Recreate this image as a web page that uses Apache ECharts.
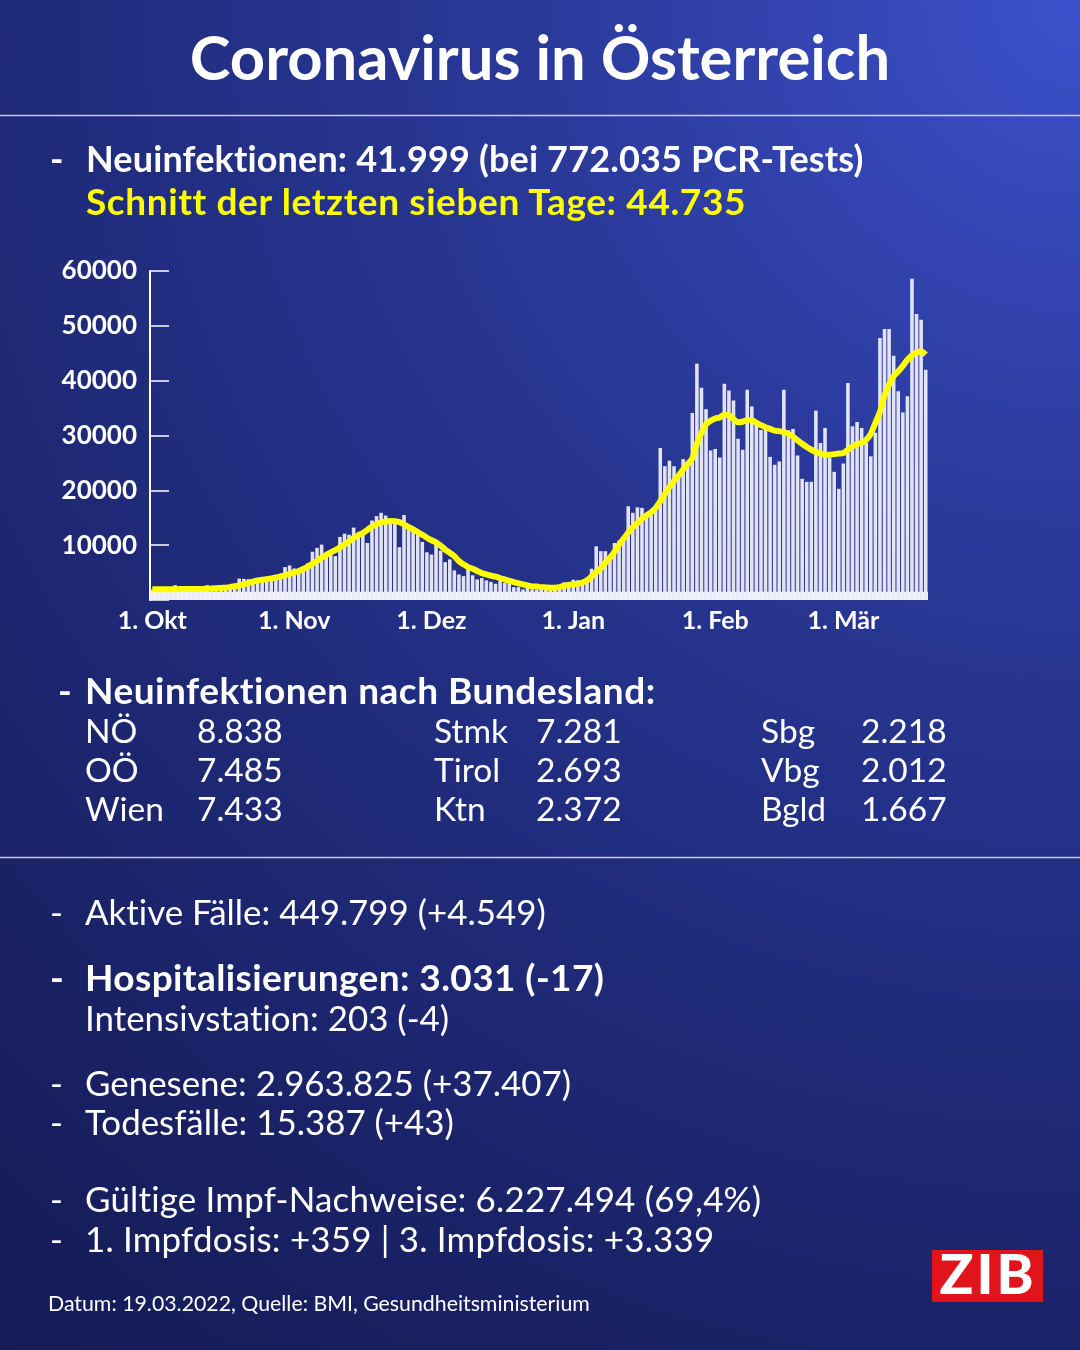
<!DOCTYPE html>
<html>
<head>
<meta charset="utf-8">
<script src="https://cdn.jsdelivr.net/npm/echarts/dist/echarts.min.js"></script>
<style>
  html, body { margin: 0; padding: 0; }
  #wrap {
    position: relative; width: 1080px; height: 1350px; overflow: hidden;
    background: radial-gradient(circle at 100% 0%, #3c51cc 0%, #2b3a9b 30%, #212d80 55%, #1a2266 80%, #151b55 100%);
    font-family: 'Lato', sans-serif;
  }
  #chart { position: absolute; left: 0; top: 0; width: 1080px; height: 1350px; }
  #overlay { position: absolute; left: 0; top: 0; width: 1080px; height: 1350px; pointer-events: none; }
  text { font-family: 'Lato', sans-serif; font-variant-ligatures: none; font-feature-settings: "liga" 0, "clig" 0; }
</style>
</head>
<body>
<div id="wrap">
  <div id="chart"></div>
  <svg id="overlay" width="1080" height="1350" xmlns="http://www.w3.org/2000/svg"></svg>
</div>
<script>
// ---------------- DATA ----------------
const startDate = '2021-10-01';
const dayCount = 170;

// daily new infections, 1 Oct 2021 .. 19 Mar 2022
const casesOct = [1900, 1800, 1700, 1600, 1900, 2700, 2100, 1900, 2000, 1800, 1700, 1900, 2700, 2100, 2200, 2300, 2300, 2400, 2600, 3900, 3850, 3800, 3750, 3800, 3870, 3900, 3870, 4000, 4100, 6000, 6300];
const casesNov = [5750, 5450, 5750, 6670, 8800, 9500, 10100, 8600, 8700, 8000, 11500, 12100, 11900, 13200, 11900, 12100, 10400, 14500, 15300, 15900, 15400, 14100, 14000, 9640, 15500, 13350, 12400, 12000, 10600, 8700];
const casesDec = [8300, 10400, 9000, 6900, 7400, 5400, 4660, 4350, 5700, 4500, 3750, 4000, 3570, 3300, 2970, 3450, 3150, 3030, 2350, 2350, 1930, 2350, 1930, 1900, 1900, 1900, 1800, 1900, 1900, 3200, 3300];
const casesJan = [3700, 3600, 2800, 3400, 5700, 9800, 8900, 8900, 7400, 10400, 10850, 11650, 17100, 15900, 16900, 16800, 15400, 16000, 16800, 27700, 24400, 25400, 24400, 22600, 25700, 25000, 34100, 43100, 38700, 34800, 27250];
const casesFeb = [27550, 26000, 39450, 38200, 36400, 29400, 27400, 38350, 35300, 32600, 31000, 31200, 26100, 24650, 25250, 38350, 30950, 31200, 26340, 22100, 21550, 21550, 34540, 28650, 31380, 26000, 23370, 20270];
const casesMar = [24880, 39580, 31680, 32470, 31380, 28650, 26200, 30500, 47800, 49400, 49400, 44550, 38050, 34200, 37150, 58600, 52150, 51100, 41999];

// seven-day average (yellow line)
const avgOct = [1950, 1950, 1950, 1950, 1950, 1950, 2000, 2000, 2000, 2000, 2000, 2000, 2050, 2100, 2150, 2200, 2250, 2350, 2500, 2650, 2850, 3100, 3350, 3550, 3700, 3800, 3950, 4100, 4300, 4480, 4750];
const avgNov = [5000, 5260, 5650, 6100, 6600, 7100, 7700, 8200, 8700, 9100, 9600, 10100, 10700, 11300, 11800, 12200, 12800, 13400, 13800, 14100, 14300, 14400, 14350, 14200, 13800, 13300, 12860, 12400, 11900, 11350];
const avgDec = [10900, 10500, 9900, 9200, 8600, 8000, 7100, 6500, 6000, 5700, 5300, 4900, 4660, 4450, 4250, 4000, 3750, 3500, 3260, 3050, 2850, 2650, 2480, 2450, 2350, 2300, 2250, 2250, 2350, 2600, 2750];
const avgJan = [2850, 2950, 3200, 3600, 4300, 5000, 5800, 6800, 7700, 8800, 10100, 11200, 12300, 13300, 14000, 14800, 15400, 16000, 16800, 18000, 19300, 20600, 21700, 22700, 23800, 24800, 25800, 28500, 30500, 32000, 32700];
const avgFeb = [33100, 33300, 33800, 33700, 33000, 32400, 32500, 32800, 32800, 32300, 31900, 31500, 31200, 30900, 30800, 30600, 30300, 29800, 29100, 28500, 27900, 27400, 27000, 26700, 26500, 26500, 26600, 26700];
const avgMar = [26800, 27400, 28000, 28400, 28650, 29200, 30300, 32300, 34300, 37300, 39300, 40800, 41700, 42700, 43800, 44600, 45100, 45300, 44735];

const yTicks = [0, 10000, 20000, 30000, 40000, 50000, 60000];
const monthLabels = {
  '2021-10-01': '1. Okt', '2021-11-01': '1. Nov', '2021-12-01': '1. Dez',
  '2022-01-01': '1. Jan', '2022-02-01': '1. Feb', '2022-03-01': '1. Mär'
};
const baseBand = [0, 1500];

// text content
const title = 'Coronavirus in Österreich';
const headLine1 = 'Neuinfektionen: 41.999 (bei 772.035 PCR-Tests)';
const headLine2 = 'Schnitt der letzten sieben Tage: 44.735';
const stateHead = 'Neuinfektionen nach Bundesland:';
const stateCol1 = [['NÖ', '8.838'], ['OÖ', '7.485'], ['Wien', '7.433']];
const stateCol2 = [['Stmk', '7.281'], ['Tirol', '2.693'], ['Ktn', '2.372']];
const stateCol3 = [['Sbg', '2.218'], ['Vbg', '2.012'], ['Bgld', '1.667']];
const footer = 'Datum: 19.03.2022, Quelle: BMI, Gesundheitsministerium';

// ---------------- BUILD ----------------
const cases = [].concat(casesOct, casesNov, casesDec, casesJan, casesFeb, casesMar);
const avg7 = [].concat(avgOct, avgNov, avgDec, avgJan, avgFeb, avgMar);
const dates = [];
{
  const [y, m, d] = startDate.split('-').map(Number);
  const t0 = Date.UTC(y, m - 1, d);
  for (let i = 0; i < dayCount; i++) {
    dates.push(new Date(t0 + i * 86400000).toISOString().slice(0, 10));
  }
}

const chart = echarts.init(document.getElementById('chart'), null, { renderer: 'canvas' });
chart.setOption({
  backgroundColor: 'transparent',
  animation: false,
  grid: { left: 150, right: 152, top: 271, bottom: 750, containLabel: false },
  xAxis: {
    type: 'category',
    data: dates,
    boundaryGap: true,
    axisLine: { show: false },
    axisTick: { show: false },
    axisLabel: {
      interval: function (idx, val) { return monthLabels[val] !== undefined; },
      formatter: function (val) { return monthLabels[val] || ''; },
      color: '#ffffff', fontFamily: 'Lato', fontWeight: 'bold', fontSize: 25, margin: 8
    }
  },
  yAxis: {
    type: 'value',
    min: yTicks[0], max: yTicks[yTicks.length - 1], interval: yTicks[1] - yTicks[0],
    axisLine: { show: true, lineStyle: { color: '#ffffff', width: 2 } },
    axisTick: { show: true, inside: true, length: 19, lineStyle: { color: '#ffffff', width: 1.5 } },
    axisLabel: {
      formatter: function (v) { return v === 0 ? '' : String(v); },
      color: '#ffffff', fontFamily: 'Lato', fontWeight: 'bold', fontSize: 26, margin: 13,
      padding: [4, 0, 0, 0]
    },
    splitLine: { show: false }
  },
  series: [
    {
      type: 'bar',
      data: cases,
      barCategoryGap: '22%',
      itemStyle: { color: 'rgba(236,236,250,0.95)' },
      markArea: {
        silent: true,
        itemStyle: { color: '#f6f6fd' },
        data: [[{ yAxis: baseBand[0] }, { yAxis: baseBand[1] }]]
      }
    },
    {
      type: 'line',
      data: avg7,
      symbol: 'none',
      smooth: 0.3,
      z: 5,
      lineStyle: { color: '#ffff00', width: 6 }
    }
  ]
});

// ---------------- TEXT OVERLAY (SVG) ----------------
const NS = 'http://www.w3.org/2000/svg';
const svg = document.getElementById('overlay');
function txt(str, x, y, size, weight, fill, anchor, spacing) {
  const t = document.createElementNS(NS, 'text');
  t.setAttribute('x', x); t.setAttribute('y', y);
  t.setAttribute('font-size', size);
  t.setAttribute('font-weight', weight || 'normal');
  t.setAttribute('fill', fill || '#ffffff');
  if (anchor) t.setAttribute('text-anchor', anchor);
  if (spacing) t.setAttribute('letter-spacing', spacing);
  t.textContent = str;
  svg.appendChild(t);
  return t;
}
function hline(y) {
  const l = document.createElementNS(NS, 'line');
  l.setAttribute('x1', 0); l.setAttribute('x2', 1080);
  l.setAttribute('y1', y); l.setAttribute('y2', y);
  l.setAttribute('stroke', 'rgba(255,255,255,0.75)');
  l.setAttribute('stroke-width', 1.5);
  svg.appendChild(l);
}

txt(title, 540, 80, 61.5, 'bold', '#ffffff', 'middle');
hline(115.5);

txt('-', 50, 172, 36, 'bold');
txt(headLine1, 86, 172, 36, 'bold', '#ffffff', null, 0.15);
txt(headLine2, 86, 215, 37, 'bold', '#ffff00', null, 0.6);

txt('-', 58, 704, 37, 'bold');
txt(stateHead, 85, 704, 37, 'bold', '#ffffff', null, 0.5);
const rowY = [743, 782, 821];
[[stateCol1, 85, 197], [stateCol2, 434, 536], [stateCol3, 761, 861]].forEach(function (c) {
  c[0].forEach(function (r, i) {
    txt(r[0], c[1], rowY[i], 33.5, 'normal');
    txt(r[1], c[2], rowY[i], 33.5, 'normal');
  });
});
hline(857.5);

const fs = 34.9;
txt('-', 50, 925, fs, 'normal');
txt('Aktive Fälle: 449.799 (+4.549)', 85, 925, fs, 'normal');
txt('-', 50, 991, 37, 'bold');
txt('Hospitalisierungen: 3.031 (-17)', 85, 991, 37, 'bold', '#ffffff', null, 0.4);
txt('Intensivstation: 203 (-4)', 85, 1031, fs, 'normal');
txt('-', 50, 1096, fs, 'normal');
txt('Genesene: 2.963.825 (+37.407)', 85, 1096, fs, 'normal');
txt('-', 50, 1135, fs, 'normal');
txt('Todesfälle: 15.387 (+43)', 85, 1135, fs, 'normal');
txt('-', 50, 1212, fs, 'normal');
txt('Gültige Impf-Nachweise: 6.227.494 (69,4%)', 85, 1212, fs, 'normal', '#ffffff', null, 0.2);
txt('-', 50, 1252, fs, 'normal');
txt('1. Impfdosis: +359 | 3. Impfdosis: +3.339', 85, 1252, fs, 'normal', '#ffffff', null, 0.2);

txt(footer, 48, 1311, 21.3, 'normal');

// ZIB logo
const r = document.createElementNS(NS, 'rect');
r.setAttribute('x', 932); r.setAttribute('y', 1250);
r.setAttribute('width', 111); r.setAttribute('height', 52);
r.setAttribute('fill', '#e2141b');
svg.appendChild(r);
const z = txt('ZIB', 988, 1294, 56, '900', '#ffffff', 'middle');
z.setAttribute('letter-spacing', '3');
</script>
</body>
</html>
